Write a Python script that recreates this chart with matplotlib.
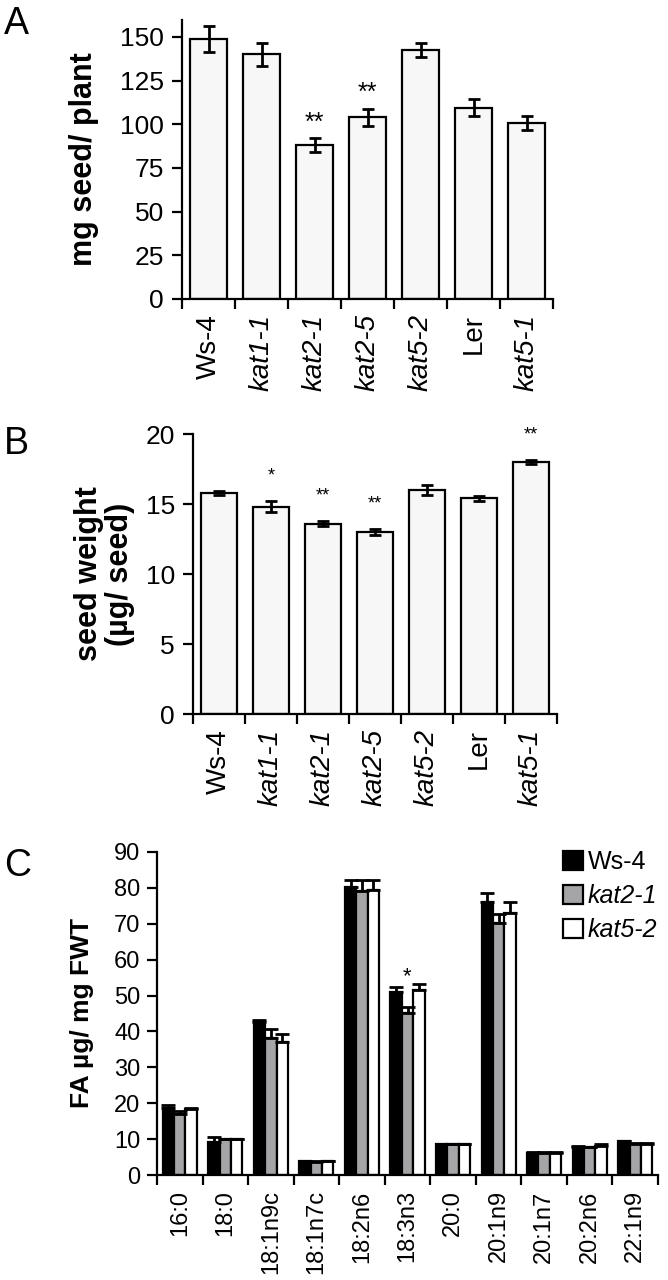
import matplotlib
matplotlib.use("Agg")
import matplotlib.pyplot as plt
import numpy as np

plt.rcParams['font.family'] = ['Liberation Sans', 'DejaVu Sans']

# ---- data ----
genotypes = ["Ws-4", "kat1-1", "kat2-1", "kat2-5", "kat5-2", "Ler", "kat5-1"]
italic_geno = [False, True, True, True, True, False, True]

seed_yield = [149, 140, 88, 104, 142.5, 109.5, 100.5]
seed_yield_err = [7.5, 6.5, 4, 5, 4, 5, 4]
seed_yield_sig = ["", "", "**", "**", "", "", ""]

seed_weight = [15.8, 14.8, 13.6, 13.0, 16.0, 15.4, 18.0]
seed_weight_err = [0.15, 0.4, 0.2, 0.2, 0.35, 0.2, 0.12]
seed_weight_sig = ["", "*", "**", "**", "", "", "**"]

fatty_acids = ["16:0", "18:0", "18:1n9c", "18:1n7c", "18:2n6", "18:3n3",
               "20:0", "20:1n9", "20:1n7", "20:2n6", "22:1n9"]
fa_series = ["Ws-4", "kat2-1", "kat5-2"]
fa_ws4 = [18.7, 9.3, 42.5, 3.8, 80.2, 50.9, 8.5, 76.0, 6.2, 7.8, 9.4]
fa_ws4_err = [0.7, 1.4, 0.6, 0.2, 2.1, 1.6, 0.2, 2.5, 0.2, 0.3, 0.2]
fa_kat21 = [16.9, 9.9, 38.1, 3.7, 79.1, 45.1, 8.5, 70.2, 6.2, 7.7, 8.7]
fa_kat21_err = [0.9, 0.2, 2.6, 0.2, 3.2, 1.8, 0.2, 2.6, 0.2, 0.2, 0.2]
fa_kat52 = [18.4, 9.9, 37.0, 3.8, 79.4, 51.6, 8.5, 73.0, 6.2, 8.2, 8.7]
fa_kat52_err = [0.2, 0.2, 2.3, 0.2, 2.9, 1.6, 0.2, 3.0, 0.2, 0.4, 0.2]
fa_sig_idx = 5  # 18:3n3 kat2-1
fa_sig = "*"

W, H = 668, 1280
fig = plt.figure(figsize=(W / 100, H / 100), dpi=100)

def px_axes(l, r, b, t):
    return fig.add_axes([l / W, 1 - b / H, (r - l) / W, (b - t) / H])

LW = 1.6

def style_axes(ax):
    for s in ['top', 'right']:
        ax.spines[s].set_visible(False)
    for s in ['left', 'bottom']:
        ax.spines[s].set_linewidth(LW)

def bar_panel(ax, vals, errs, sigs, ymax, yticks, ylabel, star_fs, star_off, label_x):
    n = len(vals)
    x = np.arange(n)
    ax.bar(x, vals, width=0.7, color='#f7f7f7', edgecolor='black', linewidth=LW, zorder=2)
    ax.errorbar(x, vals, yerr=errs, fmt='none', ecolor='black', elinewidth=2,
                capsize=4, capthick=2, zorder=3)
    for xi, v, e, s in zip(x, vals, errs, sigs):
        if s:
            ax.text(xi, v + e + star_off, s, ha='center', va='bottom',
                    fontsize=star_fs, clip_on=False)
    ax.set_xlim(-0.5, n - 0.5)
    ax.set_ylim(0, ymax)
    ax.set_yticks(yticks)
    ax.tick_params(axis='y', labelsize=19, length=7, width=LW, pad=6)
    ax.set_xticks(x)
    ax.set_xticks(np.arange(n + 1) - 0.5, minor=True)
    ax.tick_params(axis='x', which='major', length=0, pad=11, labelsize=20)
    ax.tick_params(axis='x', which='minor', length=7, width=LW)
    ax.set_xticklabels(genotypes, rotation=90)
    for lab, it in zip(ax.get_xticklabels(), italic_geno):
        if it:
            lab.set_style('italic')
    ax.set_ylabel(ylabel, fontsize=22, fontweight='bold', linespacing=1.05)
    ax.yaxis.set_label_coords(label_x, 0.5)
    style_axes(ax)

# Panel A
axA = px_axes(182, 553, 299, 19.5)
bar_panel(axA, seed_yield, seed_yield_err, seed_yield_sig, 160,
          [0, 25, 50, 75, 100, 125, 150], "mg seed/ plant", 18, 2, -0.225)

# Panel B
axB = px_axes(193, 557, 714, 434)
bar_panel(axB, seed_weight, seed_weight_err, seed_weight_sig, 20,
          [0, 5, 10, 15, 20], "seed weight\n(µg/ seed)", 13, 1.2, -0.16)

# Panel C
axC = px_axes(157, 658, 1175, 852)
n = len(fatty_acids)
xg = np.arange(n)
bw = 0.25
colors = ['black', '#a5a5a8', 'white']
series = [fa_ws4, fa_kat21, fa_kat52]
serrs = [fa_ws4_err, fa_kat21_err, fa_kat52_err]
for k, (vals, errs, col, name) in enumerate(zip(series, serrs, colors, fa_series)):
    xs = xg + (k - 1) * bw
    axC.bar(xs, vals, width=bw, color=col, edgecolor='black', linewidth=LW,
            label=name, zorder=2)
    axC.errorbar(xs, vals, yerr=[np.zeros(n), errs], fmt='none', ecolor='black',
                 elinewidth=2, capsize=5, capthick=2, zorder=3)
axC.text(xg[fa_sig_idx], fa_kat21[fa_sig_idx] + fa_kat21_err[fa_sig_idx] + 5.5, fa_sig,
         ha='center', va='bottom', fontsize=16)
axC.set_xlim(-0.5, n - 0.5)
axC.set_ylim(0, 90)
axC.set_yticks(np.arange(0, 91, 10))
axC.tick_params(axis='y', labelsize=17, length=7, width=LW, pad=5)
axC.set_xticks(xg)
axC.set_xticks(np.arange(n + 1) - 0.5, minor=True)
axC.tick_params(axis='x', which='major', length=0, pad=11, labelsize=17)
axC.tick_params(axis='x', which='minor', length=7, width=LW)
axC.set_xticklabels(fatty_acids, rotation=90)
axC.set_ylabel("FA µg/ mg FWT", fontsize=19, fontweight='bold')
axC.yaxis.set_label_coords(-0.125, 0.5)
style_axes(axC)
leg = axC.legend(loc='upper left', bbox_to_anchor=(563 / W, 1 - 850 / H),
                 bbox_transform=fig.transFigure, frameon=False, fontsize=18,
                 handlelength=0.8, handleheight=0.8, handletextpad=0.2,
                 labelspacing=0.4, borderpad=0, borderaxespad=0)
for t in leg.get_texts()[1:]:
    t.set_style('italic')

# panel letters
fig.text(4 / W, 1 - 6 / H, "A", fontsize=27, va='top', ha='left')
fig.text(4 / W, 1 - 426 / H, "B", fontsize=27, va='top', ha='left')
fig.text(4 / W, 1 - 848 / H, "C", fontsize=27, va='top', ha='left')

fig.savefig("out.png", dpi=100)
